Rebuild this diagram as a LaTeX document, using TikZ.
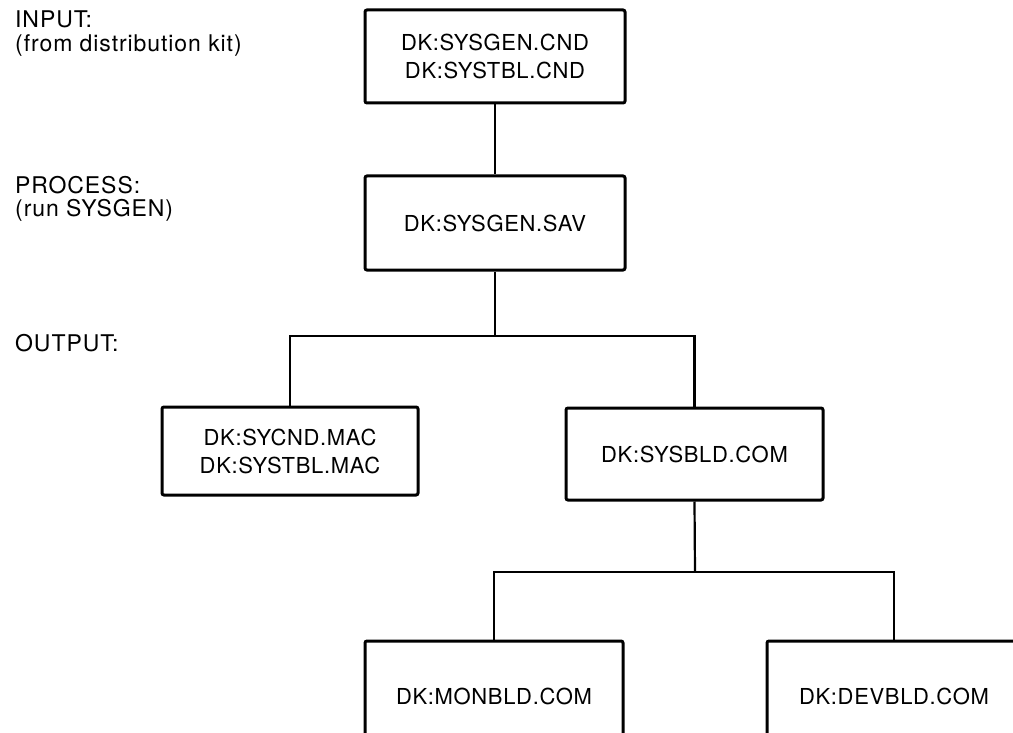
\documentclass[tikz,border=0pt]{standalone}
\usepackage{fontspec}
\setmainfont{TeX Gyre Heros}
\newfontfamily\dkfont[LetterSpace=3]{TeX Gyre Heros}
\newfontfamily\stagefont[LetterSpace=4]{TeX Gyre Heros}
\usetikzlibrary{positioning}

\begin{document}
\begin{tikzpicture}[
    x=1pt, y=-1pt,
    box/.style={rectangle, rounded corners=2pt, draw=black, line width=3pt, fill=white,
                minimum width=258pt, minimum height=92pt, align=center, inner sep=0pt,
                font=\dkfont\fontsize{22}{28}\selectfont},
    stagetext/.style={anchor=base west, align=left, inner sep=0pt,
                font=\stagefont\fontsize{23}{24}\selectfont},
    link/.style={line width=2.2pt, black}
]
\useasboundingbox (0,0) rectangle (1013,733);
\clip (0,0) rectangle (1013,733);

% stage names on the left
\node[stagetext] (input) at (15,52) {INPUT:\\(from distribution kit)};
\node[stagetext] (process) at (15,217) {PROCESS:\\(run SYSGEN)};
\node[stagetext] (output) at (15,351) {OUTPUT:};

% files
\node[box, minimum width=260pt, minimum height=93pt] (cnd) at (495,56.5) {DK:SYSGEN.CND\\DK:SYSTBL.CND};
\node[box, minimum width=260pt, minimum height=94pt, below=70pt of cnd] (sav) {DK:SYSGEN.SAV};
\node[box, minimum width=256pt, minimum height=88pt] (mac) at (290,451) {DK:SYCND.MAC\\DK:SYSTBL.MAC};
\node[box, minimum width=257pt] (bld) at (694.5,454) {DK:SYSBLD.COM};
\node[box, minimum height=110pt] (mon) at (494,696) {DK:MONBLD.COM};
\node[box, minimum width=254pt, minimum height=110pt] (dev) at (894,696) {DK:DEVBLD.COM};

% branch points
\coordinate (split1) at (495,336);
\coordinate (split2) at (695,572);

\draw[link] (cnd) -- (sav);
\draw[link] (sav.south) -- (split1);
\draw[link] (mac.north) |- (split1) -| (bld.north);
\draw[link] (bld.south) -- (split2);
\draw[link] (mon.north) |- (split2) -| (dev.north);
\end{tikzpicture}
\end{document}
